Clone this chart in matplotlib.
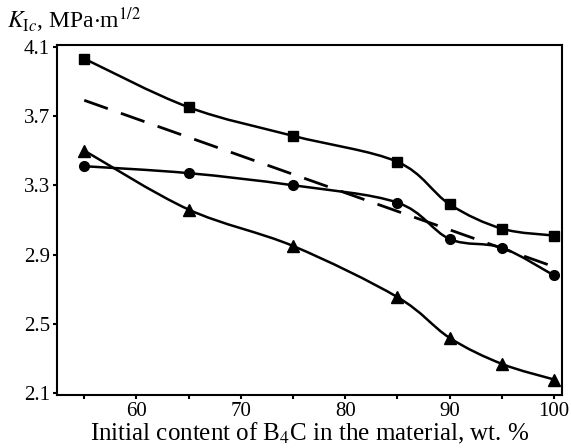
import numpy as np
import matplotlib.pyplot as plt
from matplotlib.path import Path
from matplotlib.patches import PathPatch

plt.rcParams['font.family'] = 'Liberation Serif'
plt.rcParams['mathtext.fontset'] = 'stix'

b4c = [55, 65, 75, 85, 90, 95, 100]
k_square = [4.03, 3.75, 3.585, 3.435, 3.19, 3.05, 3.01]
k_circle = [3.41, 3.37, 3.30, 3.20, 2.99, 2.94, 2.78]
k_triangle = [3.50, 3.16, 2.95, 2.655, 2.42, 2.27, 2.18]
dash_x = [55, 100]
dash_y = [3.79, 2.83]


def smooth_path(x, y):
    # Catmull-Rom through the points, drawn as cubic Bezier segments
    pts = np.column_stack([x, y]).astype(float)
    verts = [pts[0]]
    codes = [Path.MOVETO]
    n = len(pts)
    for i in range(n - 1):
        p0 = pts[max(i - 1, 0)]
        p1 = pts[i]
        p2 = pts[i + 1]
        p3 = pts[min(i + 2, n - 1)]
        c1 = p1 + (p2 - p0) / 6
        c2 = p2 - (p3 - p1) / 6
        verts += [c1, c2, p2]
        codes += [Path.CURVE4] * 3
    return Path(verts, codes)


fig = plt.figure(figsize=(5.71, 4.48), dpi=100)
ax = fig.add_axes([0.100, 0.118, 0.885, 0.782])

for ys, m, ms in [(k_square, 's', 7), (k_circle, 'o', 7), (k_triangle, '^', 8)]:
    ax.add_patch(PathPatch(smooth_path(b4c, ys), facecolor='none',
                           edgecolor='black', lw=1.8))
    ax.plot(b4c, ys, ls='none', marker=m, ms=ms, color='black')

ax.plot(dash_x, dash_y, color='black', lw=2, ls=(0, (9, 5)))

ax.set_xlim(52.4, 100.8)
ax.set_ylim(2.09, 4.11)
ax.set_xticks([60, 70, 80, 90, 100])
ax.set_xticks([55, 65, 75, 85, 95], minor=True)
ax.set_yticks([2.1, 2.5, 2.9, 3.3, 3.7, 4.1])
ax.tick_params(which='both', direction='out', length=3, width=1.5,
               labelsize=15, pad=2)
for s in ax.spines.values():
    s.set_linewidth(1.5)

ax.set_xlabel('Initial content of B$_4$C in the material, wt. %',
              fontsize=18, labelpad=0)
fig.text(0.012, 0.955, r'$K_{\mathrm{I}c}$, MPa$\cdot$m$^{1/2}$', fontsize=17,
         ha='left', va='center')

fig.savefig('out.png', dpi=100)
